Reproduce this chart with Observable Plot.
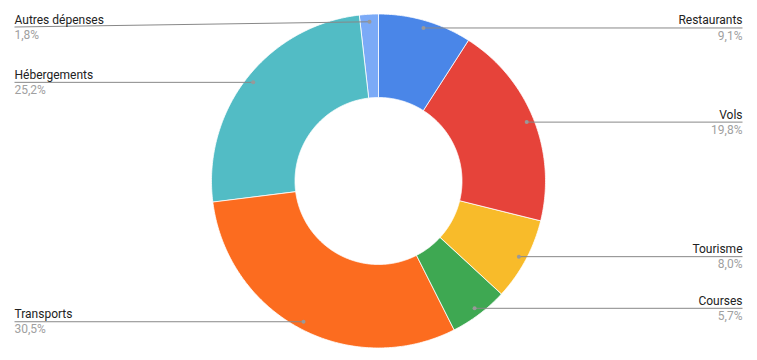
<!DOCTYPE html>
<html>
<head>
<meta charset="utf-8">
<script src="https://cdn.jsdelivr.net/npm/d3@7"></script>
<script src="https://cdn.jsdelivr.net/npm/@observablehq/plot@0.6"></script>
<style>
  html, body { margin: 0; padding: 0; background: #fff; }
  #chart { width: 757px; height: 360px; }
</style>
</head>
<body>
<div id="chart"></div>
<script>
// ---- Data ----
const categories = ["Restaurants", "Vols", "Tourisme", "Courses", "Transports", "Hébergements", "Autres dépenses"];
const values = [9.1, 19.8, 8.0, 5.7, 30.5, 25.2, 1.8];
const valueLabels = ["9,1%", "19,8%", "8,0%", "5,7%", "30,5%", "25,2%", "1,8%"];
const colors = ["#4a86e8", "#e6433a", "#f8bb2a", "#3ea852", "#fc6c1f", "#52bcc5", "#7baaf7"];

// ---- Layout ----
const W = 757, H = 360;
const CX = 378, CY = 180.5, R = 167;   // pixel centre and outer radius
const INNER = 0.5;                     // inner radius ratio
const DOT_R = 0.955;                   // leader dot radius ratio
const LEFT_X = 14, RIGHT_X = 742, MIN_LABEL_Y = 26.5;

const pie = d3.pie().sort(null).value(d => d)(values);

// slice polygons in unit (data) space, y up
const polys = [];
pie.forEach((p, i) => {
  const n = Math.max(2, Math.ceil((p.endAngle - p.startAngle) / 0.01));
  const pts = [];
  for (let k = 0; k <= n; k++) {
    const a = p.startAngle + (p.endAngle - p.startAngle) * k / n;
    pts.push({ x: Math.sin(a), y: Math.cos(a) });
  }
  for (let k = n; k >= 0; k--) {
    const a = p.startAngle + (p.endAngle - p.startAngle) * k / n;
    pts.push({ x: INNER * Math.sin(a), y: INNER * Math.cos(a) });
  }
  pts.forEach(pt => polys.push({ ...pt, cat: categories[i] }));
});

// labels
const maxV = (CY - MIN_LABEL_Y) / R;
const labelData = pie.map((p, i) => {
  const a = (p.startAngle + p.endAngle) / 2;
  const dx = DOT_R * Math.sin(a), dy = DOT_R * Math.cos(a);
  const right = a < Math.PI;
  const ly = Math.min(dy, maxV);
  return {
    cat: categories[i], val: valueLabels[i],
    dx, dy,
    lx: ((right ? RIGHT_X : LEFT_X) - CX) / R,
    ly,
    anchor: right ? "end" : "start"
  };
});
const rightL = labelData.filter(d => d.anchor === "end");
const leftL = labelData.filter(d => d.anchor === "start");

const font = "Roboto, Arial, sans-serif";

const textMarks = (arr, anchor) => [
  Plot.text(arr, { x: "lx", y: "ly", text: "cat", textAnchor: anchor, lineAnchor: "bottom", dy: -3.5, fill: "#222", fontSize: 12, fontFamily: font }),
  Plot.text(arr, { x: "lx", y: "ly", text: "val", textAnchor: anchor, lineAnchor: "top", dy: 3, fill: "#a0a0a0", fontSize: 12, fontFamily: font })
];

const chart = Plot.plot({
  width: W, height: H,
  margin: 0,
  x: { domain: [-CX / R, (W - CX) / R], axis: null },
  y: { domain: [-(H - CY) / R, CY / R], axis: null },
  color: { domain: categories, range: colors },
  style: { background: "#fff", fontFamily: font },
  marks: [
    Plot.line(polys, { x: "x", y: "y", z: "cat", fill: "cat", stroke: "#fff", strokeWidth: 0.8, curve: "linear-closed" }),
    Plot.link(labelData, { x1: "dx", y1: "dy", x2: "lx", y2: "ly", stroke: "#888", strokeWidth: 1 }),
    Plot.dot(labelData, { x: "dx", y: "dy", r: 2, fill: "#999", stroke: null }),
    ...textMarks(rightL, "end"),
    ...textMarks(leftL, "start")
  ]
});
document.getElementById("chart").appendChild(chart);
</script>
</body>
</html>
